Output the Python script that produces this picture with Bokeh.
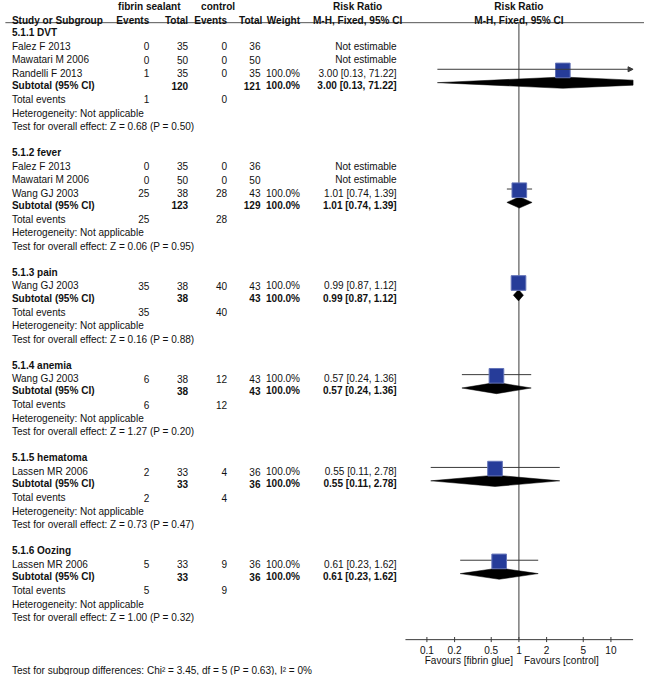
import math
from bokeh.plotting import figure
from bokeh.models import Range1d, LogScale, ColumnDataSource, Arrow, NormalHead
from bokeh.core.properties import value
from bokeh.embed import file_html
from bokeh.resources import INLINE

# ---------------- data ----------------
group_titles = ["5.1.1 DVT", "5.1.2 fever", "5.1.3 pain", "5.1.4 anemia", "5.1.5 hematoma", "5.1.6 Oozing"]
study_names = [["Falez F 2013", "Mawatari M 2006", "Randelli F 2013"],
               ["Falez F 2013", "Mawatari M 2006", "Wang GJ 2003"],
               ["Wang GJ 2003"], ["Wang GJ 2003"], ["Lassen MR 2006"], ["Lassen MR 2006"]]
fs_events = [[0, 0, 1], [0, 0, 25], [35], [6], [2], [5]]
fs_totals = [[35, 50, 35], [35, 50, 38], [38], [38], [33], [33]]
ct_events = [[0, 0, 0], [0, 0, 28], [40], [12], [4], [9]]
ct_totals = [[36, 50, 35], [36, 50, 43], [43], [43], [36], [36]]
study_weight = [[None, None, 100.0], [None, None, 100.0], [100.0], [100.0], [100.0], [100.0]]
study_rr = [[None, None, 3.00], [None, None, 1.01], [0.99], [0.57], [0.55], [0.61]]
study_lo = [[None, None, 0.13], [None, None, 0.74], [0.87], [0.24], [0.11], [0.23]]
study_hi = [[None, None, 71.22], [None, None, 1.39], [1.12], [1.36], [2.78], [1.62]]
sub_fs_total = [120, 123, 38, 38, 33, 33]
sub_ct_total = [121, 129, 43, 43, 36, 36]
sub_weight = [100.0, 100.0, 100.0, 100.0, 100.0, 100.0]
sub_rr = [3.00, 1.01, 0.99, 0.57, 0.55, 0.61]
sub_lo = [0.13, 0.74, 0.87, 0.24, 0.11, 0.23]
sub_hi = [71.22, 1.39, 1.12, 1.36, 2.78, 1.62]
tot_fs_events = [1, 25, 35, 6, 2, 5]
tot_ct_events = [0, 28, 40, 12, 4, 9]
z_values = ["0.68", "0.06", "0.16", "1.27", "0.73", "1.00"]
p_values = ["0.50", "0.95", "0.88", "0.20", "0.47", "0.32"]
axis_ticks = [0.1, 0.2, 0.5, 1, 2, 5, 10]
axis_tick_labels = ["0.1", "0.2", "0.5", "1", "2", "5", "10"]
footer = "Test for subgroup differences: Chi\u00b2 = 3.45, df = 5 (P = 0.63), I\u00b2 = 0%"
label_left = "Favours [fibrin glue]"
label_right = "Favours [control]"

# ---------------- layout constants ----------------
# figure fits the 660x691 window minus the page's 8px margins
W, H = 644, 675
X_LEFT, X_RIGHT = 0, 660
Y_TOP, Y_BOTTOM = 0, 691
SCALE = W / (X_RIGHT - X_LEFT)
X_ONE, DECADE = 531.3, 94.3
AX_PX_MIN, AX_PX_MAX = 415.0, 648.3
AX_MIN = 10 ** ((AX_PX_MIN - X_ONE) / DECADE)
AX_MAX = 10 ** ((AX_PX_MAX - X_ONE) / DECADE)

COL_NAME = 11.7
COL_FS_EV, COL_FS_TOT = 152.5, 192.3
COL_CT_EV, COL_CT_TOT = 232.3, 266.5
COL_CT_TOT_H = 268.3
COL_W = 307.0
COL_RR = 406.0
COL_RR_H = 366.0
FONT_SIZE = f"{10.3 * SCALE:.2f}px"

TXT = "#111111"
LINE = "#3a3a3a"
SQ_FILL = "#263c99"
SQ_LINE = "#6373b8"

p = figure(width=W, height=H,
           x_range=Range1d(X_LEFT, X_RIGHT), y_range=Range1d(Y_BOTTOM, Y_TOP),
           output_backend="svg", toolbar_location=None,
           x_axis_location=None, y_axis_location=None,
           min_border=0, outline_line_color=None)
p.grid.visible = False
p.extra_x_ranges = {"rr": Range1d(start=10 ** ((X_LEFT - X_ONE) / DECADE),
                                  end=10 ** ((X_RIGHT - X_ONE) / DECADE))}
p.extra_x_scales = {"rr": LogScale()}

texts = {}


def put(x, y, s, align="left", bold=False, rng="default", xoff=0):
    key = (align, bold, rng, xoff)
    d = texts.setdefault(key, {"x": [], "y": [], "t": []})
    d["x"].append(x)
    d["y"].append(y)
    d["t"].append(s)


def fmt_ci(e, lo, hi):
    return f"{e:.2f} [{lo:.2f}, {hi:.2f}]"


# ---------------- header ----------------
HY1, HY2, HLINE = 6, 20, 22.7
put(152.5, HY1, "fibrin sealant", "center", True)
put(223, HY1, "control", "center", True)
put(COL_RR_H, HY1, "Risk Ratio", "center", True)
put(1, HY1, "Risk Ratio", "center", True, "rr")
put(COL_NAME, HY2, "Study or Subgroup", "left", True)
put(COL_FS_EV, HY2, "Events", "right", True)
put(COL_FS_TOT, HY2, "Total", "right", True)
put(COL_CT_EV, HY2, "Events", "right", True)
put(COL_CT_TOT_H, HY2, "Total", "right", True)
put(COL_W, HY2, "Weight", "right", True)
put(COL_RR_H, HY2, "M-H, Fixed, 95% CI", "center", True)
put(1, HY2, "M-H, Fixed, 95% CI", "center", True, "rr")
p.segment(x0=[5], y0=[HLINE], x1=[X_RIGHT], y1=[HLINE], line_color="#555555", line_width=1)

# ---------------- body ----------------
sq_x, sq_y = [], []
ci_x0, ci_x1, ci_y = [], [], []
arrows = []
dia_xs, dia_ys = [], []
DH = 5.8

y = 33.0
for g, title in enumerate(group_titles):
    put(COL_NAME, y, title, "left", True)
    rows = [y + 14 + 13.8 * i for i in range(len(study_names[g]))]
    for i, ry in enumerate(rows):
        put(COL_NAME, ry, study_names[g][i])
        put(COL_FS_EV, ry, str(fs_events[g][i]), "right")
        put(COL_FS_TOT, ry, str(fs_totals[g][i]), "right")
        put(COL_CT_EV, ry, str(ct_events[g][i]), "right")
        put(COL_CT_TOT, ry, str(ct_totals[g][i]), "right")
        e = study_rr[g][i]
        if e is None:
            put(COL_RR, ry, "Not estimable", "right")
        else:
            lo, hi = study_lo[g][i], study_hi[g][i]
            put(COL_W, ry, f"{study_weight[g][i]:.1f}%", "right")
            put(COL_RR, ry, fmt_ci(e, lo, hi), "right")
            ly = ry - 4.2
            if hi > AX_MAX:
                arrows.append((max(lo, AX_MIN), AX_MAX, ly))
            else:
                ci_x0.append(max(lo, AX_MIN))
                ci_x1.append(hi)
                ci_y.append(ly)
            sq_x.append(e)
            sq_y.append(ry - 3.0)
    sub_y = rows[-1] + 12.5
    put(COL_NAME, sub_y, "Subtotal (95% CI)", "left", True)
    put(COL_FS_TOT, sub_y, str(sub_fs_total[g]), "right", True)
    put(COL_CT_TOT, sub_y, str(sub_ct_total[g]), "right", True)
    put(COL_W, sub_y, f"{sub_weight[g]:.1f}%", "right", True)
    put(COL_RR, sub_y, fmt_ci(sub_rr[g], sub_lo[g], sub_hi[g]), "right", True)
    # diamond (clipped to axis domain in log space)
    e, lo, hi = sub_rr[g], sub_lo[g], sub_hi[g]
    yc = sub_y - 3.0
    le, ll, lh = math.log10(e), math.log10(lo), math.log10(hi)
    xs, ys = [], []
    if lo < AX_MIN:
        hc = DH * (1 - (le - math.log10(AX_MIN)) / (le - ll))
        xs += [AX_MIN, AX_MIN]
        ys += [yc + hc, yc - hc]
    else:
        xs.append(lo)
        ys.append(yc)
    xs.append(e)
    ys.append(yc - DH)
    if hi > AX_MAX:
        hc = DH * (1 - (math.log10(AX_MAX) - le) / (lh - le))
        xs += [AX_MAX, AX_MAX]
        ys += [yc - hc, yc + hc]
    else:
        xs.append(hi)
        ys.append(yc)
    xs.append(e)
    ys.append(yc + DH)
    dia_xs.append(xs)
    dia_ys.append(ys)

    tot_y = sub_y + 14.2
    put(COL_NAME, tot_y, "Total events")
    put(COL_FS_EV, tot_y, str(tot_fs_events[g]), "right")
    put(COL_CT_EV, tot_y, str(tot_ct_events[g]), "right")
    het_y = tot_y + 14.1
    put(COL_NAME, het_y, "Heterogeneity: Not applicable")
    test_y = het_y + 13.6
    put(COL_NAME, test_y, f"Test for overall effect: Z = {z_values[g]} (P = {p_values[g]})")
    y = test_y + 26.6

# ---------------- forest plot ----------------
AXIS_Y = 654.3
p.segment(x0=[1], y0=[HLINE], x1=[1], y1=[AXIS_Y], x_range_name="rr",
          line_color=LINE, line_width=1)
p.segment(x0=ci_x0, y0=ci_y, x1=ci_x1, y1=ci_y, x_range_name="rr",
          line_color=LINE, line_width=1)
for (a0, a1, ay) in arrows:
    p.add_layout(Arrow(x_start=a0, y_start=ay, x_end=a1, y_end=ay, x_range_name="rr",
                       line_color=LINE, line_width=1,
                       end=NormalHead(size=5, fill_color=LINE, line_color=LINE)))
p.patches(xs=dia_xs, ys=dia_ys, x_range_name="rr", fill_color="black", line_color="black",
          line_width=0.5)
p.scatter(x=sq_x, y=sq_y, marker="square", size=15 * SCALE, x_range_name="rr",
          fill_color=SQ_FILL, line_color=SQ_LINE, line_width=1)

# axis
p.segment(x0=[AX_MIN], y0=[AXIS_Y], x1=[AX_MAX], y1=[AXIS_Y], x_range_name="rr",
          line_color=LINE, line_width=1)
p.segment(x0=axis_ticks, y0=[AXIS_Y - 2.7] * len(axis_ticks), x1=axis_ticks,
          y1=[AXIS_Y + 2.5] * len(axis_ticks), x_range_name="rr",
          line_color=LINE, line_width=1)
for t, lab in zip(axis_ticks, axis_tick_labels):
    put(t, 665.0, lab, "center", False, "rr")
put(1, 675.5, label_left, "right", False, "rr", -6)
put(1, 675.5, label_right, "left", False, "rr", 5)

put(COL_NAME, 686.0, footer)

for (align, bold, rng, xoff), d in texts.items():
    kw = {}
    if rng != "default":
        kw["x_range_name"] = rng
    p.text(x="x", y="y", text="t", source=ColumnDataSource(d),
           text_align=align, text_baseline="middle", x_offset=xoff,
           text_font=value("Liberation Sans"), text_font_size=FONT_SIZE,
           text_font_style="bold" if bold else "normal", text_color=TXT, **kw)

open("out.html", "w").write(file_html(p, INLINE))
